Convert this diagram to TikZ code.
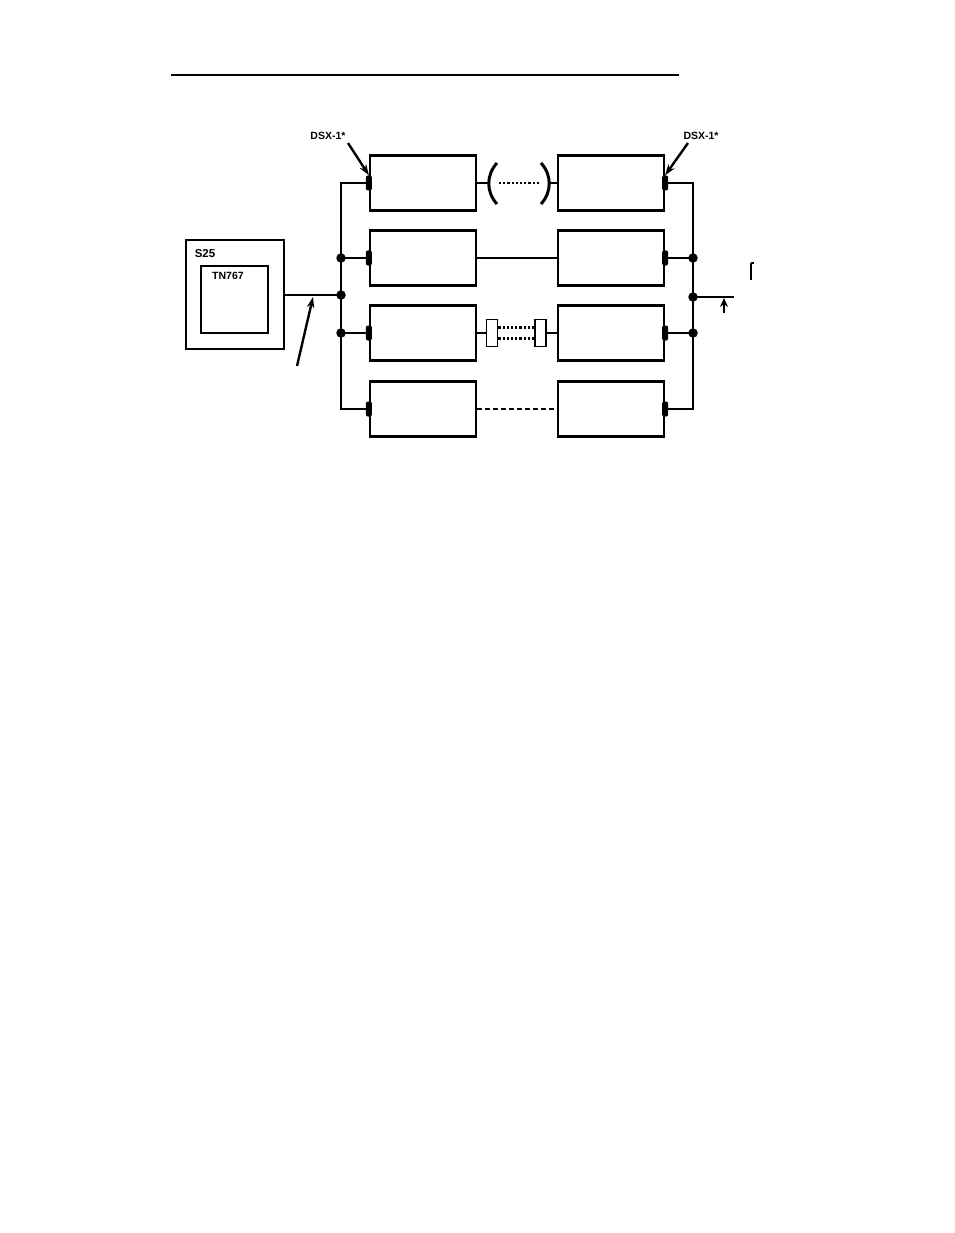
\documentclass[tikz,border=0pt]{standalone}
\usepackage{fontspec}
\setmainfont{Liberation Sans}
\usetikzlibrary{arrows.meta}
\begin{document}
\begin{tikzpicture}[x=1pt,y=-1pt,
  ln/.style={line width=2.2pt},
  unit/.style={draw,line width=2.2pt,minimum width=106pt,minimum height=55pt,inner sep=0pt},
  jack/.style={fill=black,draw=none,minimum width=6pt,minimum height=15pt,inner sep=0pt,rounded corners=2pt},
  dot/.style={circle,fill=black,minimum size=9.5pt,inner sep=0pt},
  lbl/.style={font=\bfseries\fontsize{10.5}{12}\selectfont,inner sep=0pt},
  coupler/.style={draw,line width=1.8pt,minimum width=11pt,minimum height=27pt,inner sep=0pt},
  pointer/.style={line width=2.4pt,-{Stealth[length=11pt,width=7.5pt]}}]
\useasboundingbox (0,0) rectangle (954,1233);
% top rule
\coordinate (r1) at (171,75);
\coordinate (r2) at (679,75);
\draw[line width=2pt] (r1) -- (r2);
% S25 system
\node[draw,line width=2.2pt,minimum width=98pt,minimum height=109pt,inner sep=0pt] (s25) at (235,294.5) {};
\node[draw,line width=2.2pt,minimum width=67pt,minimum height=67pt,inner sep=0pt] (tn) at (234.5,299.5) {};
\node[lbl,font=\bfseries\fontsize{11.5}{13}\selectfont] (s25t) at (205,253.5) {S25};
\node[lbl] (tnt) at (228,275.5) {TN767};
% units
\foreach \i/\y in {1/183,2/258,3/333,4/409}{
  \node[unit] (L\i) at (423,\y) {};
  \node[unit] (R\i) at (611,\y) {};
  \node[jack] (JL\i) at (L\i.west) {};
  \node[jack] (JR\i) at (R\i.east) {};
}
% bus coordinates
\coordinate (lbt) at (341,183);
\coordinate (lbb) at (341,409);
\coordinate (lb2) at (341,258);
\coordinate (lbm) at (341,295);
\coordinate (lb3) at (341,333);
\coordinate (rbt) at (693,183);
\coordinate (rbb) at (693,409);
\coordinate (rb2) at (693,258);
\coordinate (rbm) at (693,297);
\coordinate (rb3) at (693,333);
\coordinate (rend) at (734,297);
% buses
\draw[ln] (JL1.center) -- (lbt) -- (lbb) -- (JL4.center);
\draw[ln] (JL2.center) -- (lb2);
\draw[ln] (JL3.center) -- (lb3);
\draw[ln] (s25.east |- lbm) -- (lbm);
\draw[ln] (JR1.center) -- (rbt) -- (rbb) -- (JR4.center);
\draw[ln] (JR2.center) -- (rb2);
\draw[ln] (JR3.center) -- (rb3);
\draw[ln] (rbm) -- (rend);
\foreach \c in {lb2,lbm,lb3,rb2,rbm,rb3} \node[dot] (d\c) at (\c) {};
% row 1: parentheses
\coordinate (p1) at (497,163); \coordinate (p2) at (497,204);
\coordinate (q1) at (541,163); \coordinate (q2) at (541,204);
\draw[line width=3pt] (p1) .. controls (486,175) and (486,192) .. (p2);
\draw[line width=3pt] (q1) .. controls (552,175) and (552,192) .. (q2);
\coordinate (pa) at (489,183); \coordinate (pb) at (499,183);
\coordinate (qa) at (539,183); \coordinate (qb) at (549,183);
\draw[line width=1.6pt] (L1.east) -- (pa);
\draw[line width=2.4pt,dash pattern=on 2.2pt off 2pt] (pb) -- (qa);
\draw[line width=1.6pt] (qb) -- (R1.west);
% row 2: solid
\draw[line width=1.6pt] (L2.east) -- (R2.west);
% row 3: couplers with dotted pair
\node[coupler] (c1) at (492,333) {};
\node[coupler] (c2) at (540.5,333) {};
\draw[line width=1.8pt] (L3.east) -- (c1.west);
\draw[line width=1.8pt] (c2.east) -- (R3.west);
\draw[line width=2.4pt,dash pattern=on 2.2pt off 2pt] ([yshift=-5.5pt]c1.east) -- ([yshift=-5.5pt]c2.west);
\draw[line width=2.4pt,dash pattern=on 2.2pt off 2pt] ([yshift=5.5pt]c1.east) -- ([yshift=5.5pt]c2.west);
% row 4: dashed
\draw[line width=2pt,dash pattern=on 5pt off 3pt] (L4.east) -- (R4.west);
% labels
\node[lbl] (dl) at (328,136) {DSX-1*};
\node[lbl] (dr) at (701,136) {DSX-1*};
\coordinate (al) at (348,143);
\coordinate (ar) at (688,143);
\draw[pointer] (al) -- (JL1.north);
\draw[pointer] (ar) -- (JR1.north);
% pointers to lines
\coordinate (tl) at (297,366);
\coordinate (hl) at (313,297);
\draw[pointer] (tl) -- (hl);
\coordinate (tr) at (724,313);
\coordinate (hr) at (724,298);
\draw[line width=2.2pt,-{Stealth[length=9pt,width=8pt]}] (tr) -- (hr);
% clipped mark at right
\coordinate (m1) at (751,263); \coordinate (m2) at (751,280);
\draw[line width=2.4pt] (m1) -- (m2);
\draw[line width=1.2pt] (m1) -- (754,263);
\end{tikzpicture}
\end{document}
